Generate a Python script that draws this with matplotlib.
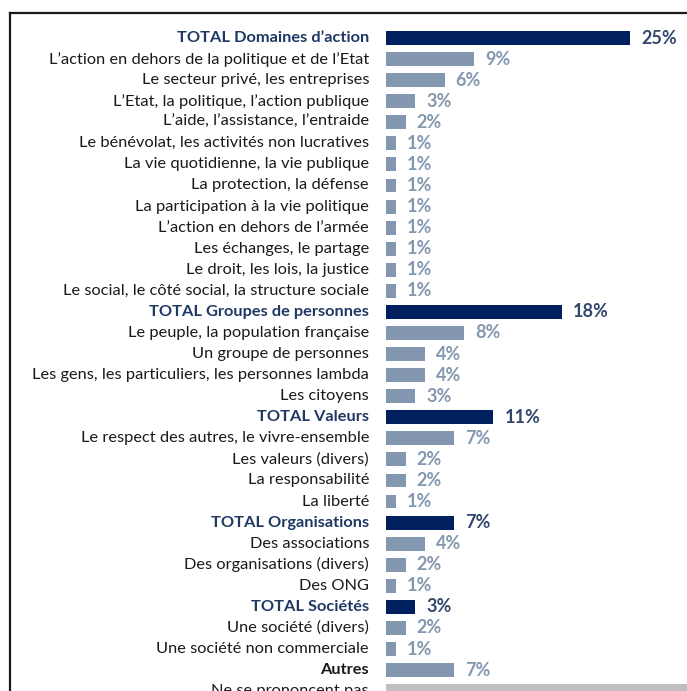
import matplotlib
matplotlib.use("Agg")
import matplotlib.pyplot as plt
from matplotlib.lines import Line2D

plt.rcParams['font.family'] = ['Lato', 'DejaVu Sans']

labels = [
    "TOTAL Domaines d\u2019action",
    "L\u2019action en dehors de la politique et de l\u2019Etat",
    "Le secteur priv\u00e9, les entreprises",
    "L\u2019Etat, la politique, l\u2019action publique",
    "L\u2019aide, l\u2019assistance, l\u2019entraide",
    "Le b\u00e9n\u00e9volat, les activit\u00e9s non lucratives",
    "La vie quotidienne, la vie publique",
    "La protection, la d\u00e9fense",
    "La participation \u00e0 la vie politique",
    "L\u2019action en dehors de l\u2019arm\u00e9e",
    "Les \u00e9changes, le partage",
    "Le droit, les lois, la justice",
    "Le social, le c\u00f4t\u00e9 social, la structure sociale",
    "TOTAL Groupes de personnes",
    "Le peuple, la population fran\u00e7aise",
    "Un groupe de personnes",
    "Les gens, les particuliers, les personnes lambda",
    "Les citoyens",
    "TOTAL Valeurs",
    "Le respect des autres, le vivre-ensemble",
    "Les valeurs (divers)",
    "La responsabilit\u00e9",
    "La libert\u00e9",
    "TOTAL Organisations",
    "Des associations",
    "Des organisations (divers)",
    "Des ONG",
    "TOTAL Soci\u00e9t\u00e9s",
    "Une soci\u00e9t\u00e9 (divers)",
    "Une soci\u00e9t\u00e9 non commerciale",
    "Autres",
    "Ne se prononcent pas",
]
values = [25, 9, 6, 3, 2, 1, 1, 1, 1, 1, 1, 1, 1,
          18, 8, 4, 4, 3,
          11, 7, 2, 2, 1,
          7, 4, 2, 1,
          3, 2, 1,
          7, 45]
# row kind: total / item / other / nsp
kinds = ["total"] + ["item"] * 12 + ["total"] + ["item"] * 4 + ["total"] + ["item"] * 4 \
    + ["total"] + ["item"] * 3 + ["total"] + ["item"] * 2 + ["other", "nsp"]

W, H = 687, 691
fig = plt.figure(figsize=(W / 100, H / 100), dpi=100)

bar_x0 = 386
px_per_pct = 9.76
row0, pitch = 38, 21.07
ax = fig.add_axes([bar_x0 / W, 0, (W - bar_x0) / W, 1])
ax.set_xlim(0, (W - bar_x0) / px_per_pct)
ax.set_ylim((H - row0) / pitch, -row0 / pitch)
ax.axis('off')

bar_col = {"total": "#002060", "item": "#8497b0", "other": "#8497b0", "nsp": "#bfbfbf"}
val_col = {"total": "#33466b", "item": "#8497b0", "other": "#8497b0", "nsp": "#7f7f7f"}
lab_col = {"total": "#1f3864", "item": "#1a1a1a", "other": "#1a1a1a", "nsp": "#1a1a1a"}

for i, (lab, v, k) in enumerate(zip(labels, values, kinds)):
    ax.barh(i, v, height=0.66, color=bar_col[k], clip_on=False)
    bold = "bold" if k in ("total", "other") else "normal"
    ax.annotate(lab, (0, i), xytext=(-17, 0), textcoords="offset pixels",
                ha="right", va="center", fontsize=11.8, color=lab_col[k],
                fontweight=bold, annotation_clip=False)
    if k != "nsp":
        ax.annotate(f"{v}%", (v, i), xytext=(11, 0), textcoords="offset pixels",
                    ha="left", va="center", fontsize=13, color=val_col[k],
                    fontweight="bold", annotation_clip=False)

# frame lines
fig.add_artist(Line2D([10 / W, 1], [1 - 13 / H, 1 - 13 / H], color="#1a1a1a", lw=1.6,
                      transform=fig.transFigure))
fig.add_artist(Line2D([10 / W, 10 / W], [1 - 13 / H, 0], color="#1a1a1a", lw=1.6,
                      transform=fig.transFigure))

fig.savefig("out.png", dpi=100)
